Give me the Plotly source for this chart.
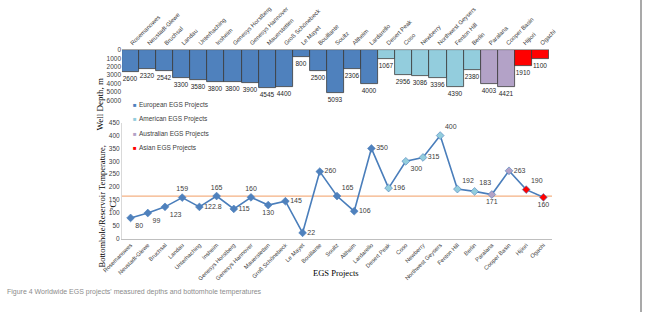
import plotly.graph_objects as go

projects = ["Rosemanowes", "Neustadt-Glewe", "Bruchsal", "Landau", "Unterhaching", "Insheim",
            "Genesys Horstberg", "Genesys Hannover", "Mauerstetten", "Groß Schönebeck", "Le Mayet",
            "Bouillante", "Soultz", "Altheim", "Lardarello", "Desert Peak", "Coso", "Newberry",
            "Northwest Geysers", "Fenton Hill", "Berlin", "Paralana", "Cooper Basin", "Hijiori", "Ogachi"]
depth_m = [2600, 2320, 2542, 3300, 3580, 3800, 3800, 3900, 4545, 4400, 800,
           2500, 5093, 2306, 4000, 1067, 2956, 3086, 3396, 4390, 2380, 4003, 4421, 1910, 1100]
temperature_c = [80, 99, 123, 159, 122.8, 165, 115, 160, 130, 145, 22,
                 260, 165, 106, 350, 196, 300, 315, 400, 192, 183, 171, 263, 190, 160]
region = ["European EGS Projects"] * 15 + ["American EGS Projects"] * 6 + \
         ["Australian EGS Projects"] * 2 + ["Asian EGS Projects"] * 2
regions = ["European EGS Projects", "American EGS Projects", "Australian EGS Projects", "Asian EGS Projects"]
region_colors = {"European EGS Projects": "#4F81BD", "American EGS Projects": "#93CDDD",
                 "Australian EGS Projects": "#B3A2C7", "Asian EGS Projects": "#FF0000"}
temp_label_pos = ["bottom right", "bottom right", "bottom right", "top center", "middle right",
                  "top center", "middle right", "top center", "bottom center", "middle right",
                  "middle right", "middle right", "top right", "middle right", "middle right",
                  "middle right", "bottom right", "middle right", "top right", "top right",
                  "top right", "bottom center", "middle right", "top right", "bottom center"]
reference_temp = 165
depth_ticks = [0, 1000, 2000, 3000, 4000, 5000, 6000]
temp_ticks = [0, 50, 100, 150, 200, 250, 300, 350, 400, 450]

W, H = 648, 312
def px(x): return x / W
def py(y): return 1 - y / H

fig = go.Figure()
for reg in regions:
    xs = [p for p, r in zip(projects, region) if r == reg]
    ys = [d for d, r in zip(depth_m, region) if r == reg]
    fig.add_trace(go.Bar(
        x=xs, y=ys, name=reg, xaxis="x", yaxis="y", width=1, showlegend=False,
        marker=dict(color=region_colors[reg], line=dict(color="#3A3A3A", width=0.8)),
        text=[str(v) for v in ys], textposition="outside", constraintext="none",
        textfont=dict(size=6.5, color="#262626", family="Liberation Sans, Arial"),
        cliponaxis=False))

fig.add_trace(go.Scatter(
    x=projects, y=temperature_c, xaxis="x2", yaxis="y2", mode="lines+markers+text",
    line=dict(color="#4A7EBB", width=1.6),
    marker=dict(symbol="diamond", size=6, color=[region_colors[r] for r in region],
                line=dict(color="#4A7EBB", width=0.6)),
    text=[f"{v:g}" for v in temperature_c], textposition=temp_label_pos,
    textfont=dict(size=7, color="#404040", family="Liberation Sans, Arial"),
    showlegend=False, cliponaxis=False))

fig.add_shape(type="line", xref="paper", yref="y2", x0=px(122), x1=px(552),
              y0=reference_temp, y1=reference_temp, line=dict(color="#F4B183", width=1.2), layer="below")
fig.add_shape(type="line", xref="paper", yref="paper", x0=px(641), x1=px(641), y0=0, y1=1,
              line=dict(color="#8C8C8C", width=1.5))

annotations = [
    dict(text="Well Depth, m", x=px(92), y=py(76), xref="paper", yref="paper",
         textangle=-90, showarrow=False, font=dict(family="Liberation Serif, Times New Roman", size=9, color="#000000")),
    dict(text="Bottomhole/Reservoir Temperature,<br>°C", x=px(94), y=py(207), xref="paper", yref="paper",
         textangle=-90, showarrow=False, font=dict(family="Liberation Serif, Times New Roman", size=8.5, color="#000000")),
    dict(text="EGS Projects", x=px(336), y=py(280), xref="paper", yref="paper",
         showarrow=False, font=dict(family="Liberation Serif, Times New Roman", size=8.5, color="#000000")),
    dict(text="Figure 4 Worldwide EGS projects' measured depths and bottomhole temperatures",
         x=px(5), y=py(298), xref="paper", yref="paper", xanchor="left", showarrow=False,
         font=dict(size=7, color="#8C8C8C")),
]
legend_rows_y = [104.7, 119, 133.7, 148.3]
for reg, yy in zip(regions, legend_rows_y):
    annotations.append(dict(text="■", x=px(131), y=py(yy), xref="paper", yref="paper",
                            showarrow=False, font=dict(size=6, color=region_colors[reg])))
    annotations.append(dict(text=reg, x=px(136.5), y=py(yy), xref="paper", yref="paper",
                            xanchor="left", showarrow=False, font=dict(size=6.5, color="#404040")))

cat_range = [-0.5, len(projects) - 0.5]
tickfont = dict(size=6, color="#404040", family="Liberation Sans, Arial")
fig.update_layout(
    template="none",
    width=W, height=H, margin=dict(l=0, r=0, t=0, b=0, autoexpand=False),
    paper_bgcolor="white", plot_bgcolor="white",
    barmode="overlay", bargap=0, showlegend=False,
    font=dict(family="Liberation Sans, Arial", color="#404040"),
    xaxis=dict(domain=[px(122), px(549)], anchor="y", side="top", type="category", range=cat_range,
               categoryorder="array", categoryarray=projects, tickangle=-45, automargin=False,
               tickfont=tickfont, showline=True, linecolor="#A6A6A6", linewidth=1.2,
               ticks="", showgrid=False, zeroline=False),
    yaxis=dict(domain=[py(100.3), py(50)], range=[6000, 0], tickvals=depth_ticks, automargin=False,
               tickfont=dict(size=6.5, color="#404040"), showgrid=False, zeroline=False,
               showline=False, ticks=""),
    xaxis2=dict(domain=[px(122), px(552)], anchor="y2", type="category", automargin=False, range=cat_range,
                categoryorder="array", categoryarray=projects, tickangle=-45,
                tickfont=dict(size=5.8, color="#404040"), showline=True, linecolor="#BFBFBF", linewidth=1,
                ticks="", showgrid=False, zeroline=False),
    yaxis2=dict(domain=[py(238.5), py(122.7)], range=[0, 450], tickvals=temp_ticks, automargin=False,
                tickfont=dict(size=6.5, color="#404040"), showgrid=False, zeroline=False,
                showline=True, linecolor="#D9D9D9", linewidth=1, ticks=""),
    annotations=annotations,
)

fig.write_html("out.html")
